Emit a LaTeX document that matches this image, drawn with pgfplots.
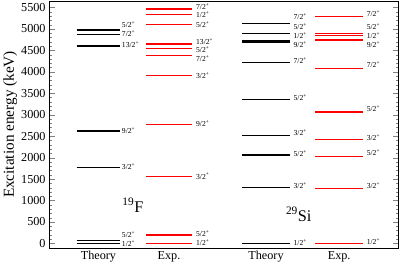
\documentclass[border=0pt]{standalone}
\usepackage{fontspec}
\setmainfont{Liberation Serif}
\usepackage{pgfplots}
\pgfplotsset{compat=1.18}
\begin{document}
\begin{tikzpicture}
\begin{axis}[
  scale only axis, width=344pt, height=243pt,
  xmin=0, xmax=344, ymin=-105, ymax=5650,
  xtick={48.5,118,213.5,285.5},
  xticklabels={Theory,Exp.,Theory,Exp.},
  x tick style={draw=none},
  ytick={0,500,...,5500}, minor y tick num=4,
  ytick pos=both, yticklabel pos=left,
  tick align=inside,
  major tick length=6pt, minor tick length=3pt,
  /pgf/number format/assume math mode=true,
  /pgf/number format/1000 sep={},
  tick label style={font=\fontsize{12}{13}\selectfont},
  ylabel={Excitation energy (keV)},
  ylabel style={font=\fontsize{15}{16}\selectfont, yshift=-3pt},
  axis line style={line width=0.8pt},
  unbounded coords=jump,
  clip=false,
  nodes near coords style={anchor=west, inner sep=0.5pt, font=\fontsize{7.5}{8}\selectfont},
]
% 19F theory
\addplot[black, line width=1.3pt, mark=none] coordinates {
 (27,0) (70,0) (nan,nan) (27,75) (70,75) (nan,nan)
 (27,1770) (70,1770) (nan,nan) (27,2620) (70,2620) (nan,nan)
 (27,4600) (70,4600) (nan,nan) (27,4875) (70,4875) (nan,nan)
 (27,4975) (70,4975)};
% 19F exp
\addplot[red, line width=1.3pt, mark=none] coordinates {
 (95,0) (141,0) (nan,nan) (95,197) (141,197) (nan,nan)
 (95,1554) (141,1554) (nan,nan) (95,2780) (141,2780) (nan,nan)
 (95,3908) (141,3908) (nan,nan) (95,4378) (141,4378) (nan,nan)
 (95,4550) (141,4550) (nan,nan) (95,4648) (141,4648) (nan,nan)
 (95,5107) (141,5107) (nan,nan) (95,5337) (141,5337) (nan,nan)
 (95,5464) (141,5464)};
% 29Si theory
\addplot[black, line width=1.3pt, mark=none] coordinates {
 (190,0) (237,0) (nan,nan) (190,1296) (237,1296) (nan,nan)
 (190,2062) (237,2062) (nan,nan) (190,2520) (237,2520) (nan,nan)
 (190,3348) (237,3348) (nan,nan) (190,4218) (237,4218) (nan,nan)
 (190,4680) (237,4680) (nan,nan) (190,4720) (237,4720) (nan,nan)
 (190,4895) (237,4895) (nan,nan) (190,5130) (237,5130)};
% 29Si exp
\addplot[red, line width=1.3pt, mark=none] coordinates {
 (262,0) (309,0) (nan,nan) (262,1273) (309,1273) (nan,nan)
 (262,2028) (309,2028) (nan,nan) (262,2426) (309,2426) (nan,nan)
 (262,3067) (309,3067) (nan,nan) (262,4080) (309,4080) (nan,nan)
 (262,4741) (309,4741) (nan,nan) (262,4845) (309,4845) (nan,nan)
 (262,4890) (309,4890) (nan,nan) (262,5284) (309,5284)};
% labels
\addplot[only marks, mark=none, point meta=explicit symbolic,
  nodes near coords={\pgfplotspointmeta\textsuperscript{+}}] coordinates {
 (71,0) [1/2] (71,200) [5/2] (71,1800) [3/2] (71,2630) [9/2]
 (71,4645) [13/2] (71,4893) [7/2] (71,5107) [5/2]
 (144,10) [1/2] (144,220) [5/2] (144,1571) [3/2] (144,2796) [9/2]
 (144,3910) [3/2] (144,4313) [7/2] (144,4526) [5/2] (144,4716) [13/2]
 (144,5095) [5/2] (144,5332) [1/2] (144,5521) [7/2]
 (240,31) [1/2] (240,1358) [3/2] (240,2092) [5/2] (240,2583) [3/2]
 (240,3405) [5/2] (240,4265) [7/2] (240,4645) [9/2] (240,4855) [1/2]
 (240,5065) [5/2] (240,5300) [7/2]
 (312,40) [1/2] (312,1358) [3/2] (312,2109) [5/2] (312,2464) [3/2]
 (312,3152) [5/2] (312,4164) [7/2] (312,4645) [9/2] (312,4855) [1/2]
 (312,5065) [5/2] (312,5350) [7/2]
};
\node[anchor=base west, inner sep=0pt, font=\fontsize{16}{16}\selectfont] at (axis cs:72,727) {\textsuperscript{19}F};
\node[anchor=base west, inner sep=0pt, font=\fontsize{16}{16}\selectfont] at (axis cs:233,514) {\textsuperscript{29}Si};
\end{axis}
\end{tikzpicture}
\end{document}
